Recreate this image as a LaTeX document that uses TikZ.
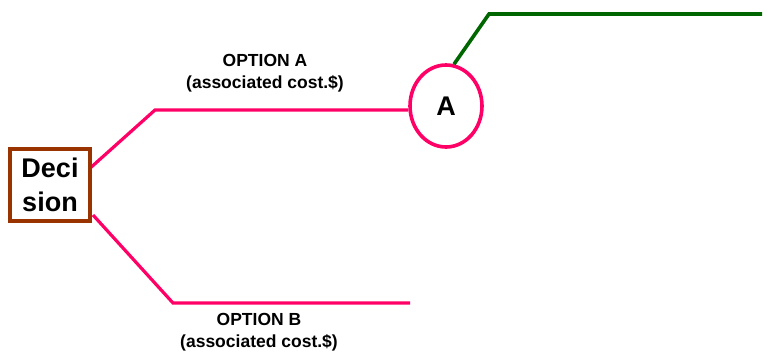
\documentclass[tikz,border=0pt]{standalone}
\usepackage{fontspec}
\setmainfont{Liberation Sans}
\usetikzlibrary{shapes.geometric}
\definecolor{pinkline}{HTML}{FF0066}
\definecolor{brownbox}{HTML}{993300}
\definecolor{darkgreen}{HTML}{006600}
\begin{document}
\begin{tikzpicture}[x=1pt,y=-1pt,
  pinkpath/.style={draw=pinkline,line width=3.2pt},
  greenpath/.style={draw=darkgreen,line width=3.6pt},
  decbox/.style={draw=brownbox,line width=3.5pt,fill=white,minimum width=80pt,minimum height=72pt,inner sep=0pt,align=center,font=\bfseries\fontsize{27}{34}\selectfont},
  chance/.style={ellipse,draw=pinkline,line width=3.6pt,minimum width=72pt,minimum height=82pt,inner sep=0pt,font=\bfseries\fontsize{27}{30}\selectfont},
  lbl/.style={align=center,font=\bfseries\fontsize{17.5}{22}\selectfont,inner sep=0pt}]
\useasboundingbox (0,0) rectangle (767,354);
\coordinate (a1) at (155,110);
\coordinate (b1) at (173,303);
\coordinate (b2) at (410,303);
\coordinate (g1) at (489,14);
\coordinate (g2) at (762,14);
\coordinate (dA) at (88,170);
\coordinate (dB) at (93,215);
\node[chance] (A) at (446,106) {A};
\draw[pinkpath] (dA) -- (a1) -- (a1 -| A.west);
\draw[pinkpath] (dB) -- (b1) -- (b2);
\draw[greenpath] (A.north) ++(8,1) coordinate (gs) -- (g1) -- (g2);
\node[decbox] (D) at (50,185) {Deci\\sion};
\node[lbl] (la) at (265,73) {OPTION A\\(associated cost.\$)};
\node[lbl] (lb) at (259,332) {OPTION B\\(associated cost.\$)};
\end{tikzpicture}
\end{document}
